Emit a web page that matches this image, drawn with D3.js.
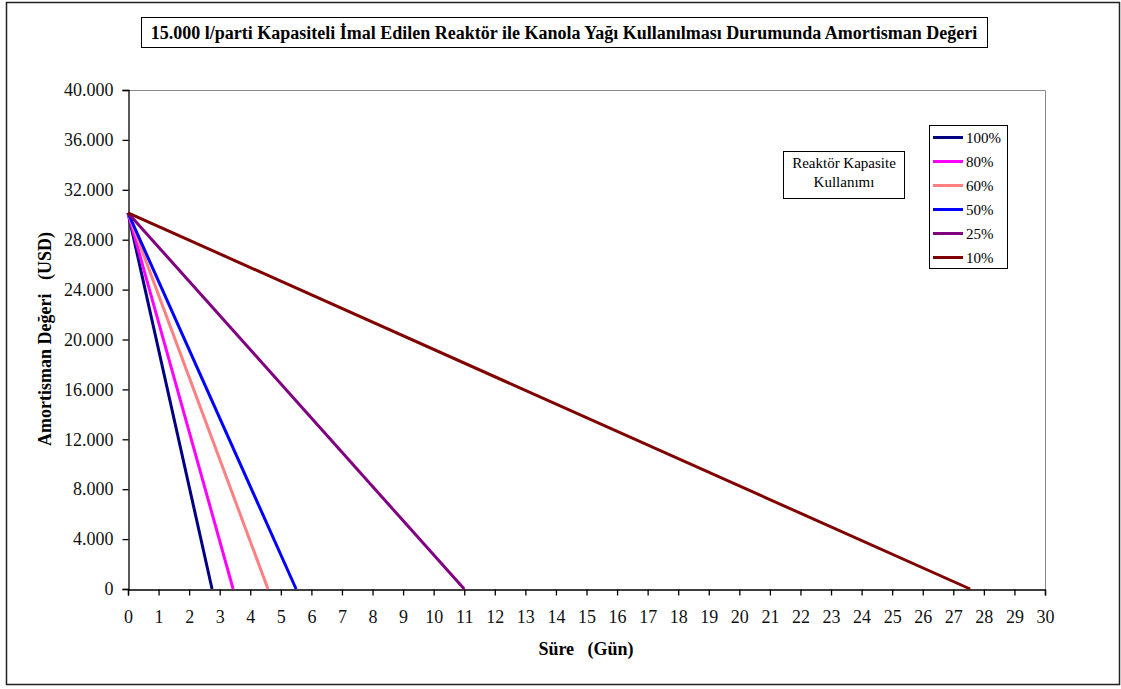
<!DOCTYPE html>
<html>
<head>
<meta charset="utf-8">
<script src="https://cdn.jsdelivr.net/npm/d3@7"></script>
<style>
  body { margin: 0; background: #fff; }
  svg text { font-family: "Liberation Serif", "Times New Roman", serif; }
</style>
</head>
<body>
<div id="chart"></div>
<script>
// chart data
var seriesNames = ["100%", "80%", "60%", "50%", "25%", "10%"];
var seriesColors = ["#000080", "#ff00ff", "#ff8080", "#0000ff", "#800080", "#800000"];
var startValue = 30150;
var endDays = [2.75, 3.44, 4.58, 5.5, 11.0, 27.55];
var xTicks = d3.range(0, 31);
var yTicks = [0, 4000, 8000, 12000, 16000, 20000, 24000, 28000, 32000, 36000, 40000];

var width = 1121, height = 689;
var size = {left: 128, right: 1045, top: 90, bottom: 589};

var svg = d3.select("#chart").append("svg")
    .attr("width", width)
    .attr("height", height);

// outer frame
svg.append("rect")
    .attr("x", 6.5).attr("y", 2.5)
    .attr("width", 1113).attr("height", 682)
    .attr("fill", "#fff")
    .attr("stroke", "#222")
    .attr("stroke-width", 1.5);

var x = d3.scaleLinear().domain([0, 30]).range([size.left, size.right]);
var y = d3.scaleLinear().domain([0, 40000]).range([size.bottom, size.top]);

var fmt = function(d) { return d === 0 ? "0" : d3.format(",")(d).replace(/,/g, "."); };

// plot area frame (grey top/right)
svg.append("path")
    .attr("d", "M" + size.left + "," + (size.top + 0.5) + "H" + (size.right + 0.5) + "V" + size.bottom)
    .attr("fill", "none")
    .attr("stroke", "#888")
    .attr("stroke-width", 1);

// axes
var yAxis = svg.append("g")
    .attr("transform", "translate(" + (size.left + 0.5) + ",0)")
    .call(d3.axisLeft(y).tickValues(yTicks).tickFormat(fmt).tickSize(6).tickPadding(9));

var xAxis = svg.append("g")
    .attr("transform", "translate(0," + (size.bottom + 0.5) + ")")
    .call(d3.axisBottom(x).tickValues(xTicks).tickFormat(d3.format("d")).tickSize(6).tickPadding(15));

[yAxis, xAxis].forEach(function(a) {
  a.attr("font-family", null).attr("font-size", null);
  a.select(".domain").attr("stroke", "#000").attr("stroke-width", 1.3);
  a.selectAll(".tick line").attr("stroke", "#000").attr("stroke-width", 1.3);
  a.selectAll("text")
      .attr("fill", "#111")
      .style("font-size", "18px");
});

// series lines
var line = d3.line().x(function(d) { return x(d[0]); }).y(function(d) { return y(d[1]); });

svg.append("g").selectAll("path")
    .data(seriesNames.map(function(n, i) { return {name: n, color: seriesColors[i], pts: [[0, startValue], [endDays[i], 0]]}; }))
    .enter().append("path")
    .attr("d", function(d) { return line(d.pts); })
    .attr("fill", "none")
    .attr("stroke", function(d) { return d.color; })
    .attr("stroke-width", 3);

// title
svg.append("rect")
    .attr("x", 141.5).attr("y", 17.5)
    .attr("width", 846).attr("height", 30)
    .attr("fill", "#fff").attr("stroke", "#000").attr("stroke-width", 1);
svg.append("text")
    .attr("x", 564).attr("y", 39)
    .attr("text-anchor", "middle")
    .style("font-size", "18px").style("font-weight", "bold")
    .text("15.000 l/parti Kapasiteli İmal Edilen Reaktör ile Kanola Yağı Kullanılması Durumunda Amortisman Değeri");

// axis titles
svg.append("text")
    .attr("x", 586).attr("y", 655)
    .attr("text-anchor", "middle")
    .style("font-size", "18px").style("font-weight", "bold")
    .attr("xml:space", "preserve")
    .text("Süre   (Gün)");

svg.append("text")
    .attr("transform", "translate(51,339) rotate(-90)")
    .attr("text-anchor", "middle")
    .style("font-size", "18px").style("font-weight", "bold")
    .attr("xml:space", "preserve")
    .text("Amortisman Değeri   (USD)");

// annotation box
svg.append("rect")
    .attr("x", 783.5).attr("y", 151.5)
    .attr("width", 121).attr("height", 47)
    .attr("fill", "#fff").attr("stroke", "#000").attr("stroke-width", 1);
svg.append("text").attr("x", 844).attr("y", 168)
    .attr("text-anchor", "middle").style("font-size", "15px")
    .text("Reaktör Kapasite");
svg.append("text").attr("x", 844).attr("y", 187)
    .attr("text-anchor", "middle").style("font-size", "15px")
    .text("Kullanımı");

// legend
svg.append("rect")
    .attr("x", 929.5).attr("y", 125.5)
    .attr("width", 78).attr("height", 143)
    .attr("fill", "#fff").attr("stroke", "#000").attr("stroke-width", 1);

var legend = svg.append("g").selectAll("g")
    .data(seriesNames)
    .enter().append("g")
    .attr("transform", function(d, i) { return "translate(933," + (137.5 + i * 24) + ")"; });

legend.append("line")
    .attr("x1", 0).attr("x2", 30)
    .attr("stroke", function(d, i) { return seriesColors[i]; })
    .attr("stroke-width", 3);

legend.append("text")
    .attr("x", 33).attr("dy", "0.35em")
    .style("font-size", "15px")
    .text(function(d) { return d; });
</script>
</body>
</html>
